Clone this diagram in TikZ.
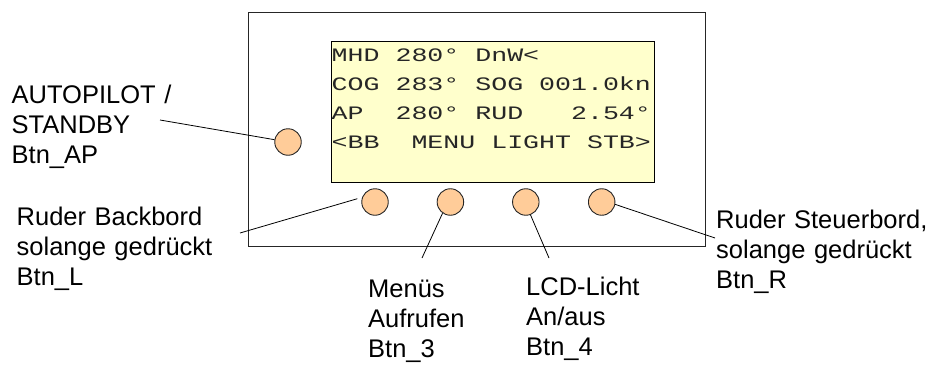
\documentclass[tikz,border=0pt]{standalone}
\usepackage{fontspec}
\setmainfont{Liberation Sans}
\newfontfamily\lcdfont[FakeStretch=1.4]{Liberation Mono}
\usetikzlibrary{positioning}
\definecolor{lcdyellow}{RGB}{255,255,204}
\definecolor{btnpeach}{RGB}{255,204,153}

\begin{document}
\begin{tikzpicture}[x=1pt,y=-1pt,
  btn/.style={circle,draw=black!85,fill=btnpeach,line width=0.9pt,minimum size=26.5pt,inner sep=0pt},
  lbl/.style={text width=215pt,align=left,anchor=north west,inner sep=0pt,font=\fontsize{25.5}{30}\selectfont},
  lcdrow/.style={anchor=base west,inner sep=0pt,text=black!85,font=\lcdfont\fontsize{19}{29}\selectfont},
  wire/.style={draw=black,line width=0.8pt}]
\useasboundingbox (0,0) rectangle (936,364);

% housing and display
\draw[black!85,line width=1pt] (248,12) rectangle (705.5,246.5);
\draw[fill=lcdyellow,line width=1pt] (331.5,41.5) rectangle (654,182);

\node (lcd1)[lcdrow] at (331.5,61.3) {MHD 280° DnW<};
\node (lcd2)[lcdrow] at (331.5,90.3) {COG 283° SOG 001.0kn};
\node (lcd3)[lcdrow] at (331.5,119.3) {AP~~280° RUD~~~2.54°};
\node (lcd4)[lcdrow] at (331.5,148.3) {<BB~~MENU LIGHT STB>};

% buttons
\node (btnap)[btn] at (288,142) {};
\node (btnl)[btn] at (375,202) {};
\node (btn3)[btn,right=48pt of btnl] {};
\node (btn4)[btn,right=48pt of btn3] {};
\node (btnr)[btn,right=48.5pt of btn4] {};

% labels
\node (aplbl)[lbl] at (11.5,85) {AUTOPILOT /\\STANDBY\\Btn\_AP};
\node (llbl)[lbl] at (16.5,206.7) {Ruder Backbord\\solange gedrückt\\Btn\_L};
\node (m3lbl)[lbl] at (368,280) {Menüs\\Aufrufen\\Btn\_3};
\node (l4lbl)[lbl] at (526,276.7) {LCD-Licht\\An/aus\\Btn\_4};
\node (rlbl)[lbl] at (716,210) {Ruder Steuerbord,\\solange gedrückt\\Btn\_R};

\coordinate (aptip) at (160,120);
\coordinate (ltip) at (240,233);
\coordinate (m3tip) at (422,258);
\coordinate (l4tip) at (549,258);
\coordinate (rtip) at (715,238);

\draw[wire] (aptip) -- (btnap);
\draw[wire,shorten >=5pt] (ltip) -- (btnl.160);
\draw[wire] (btn3.235) -- (m3tip);
\draw[wire] (btn4.290) -- (l4tip);
\draw[wire] (btnr.350) -- (rtip);
\end{tikzpicture}
\end{document}
